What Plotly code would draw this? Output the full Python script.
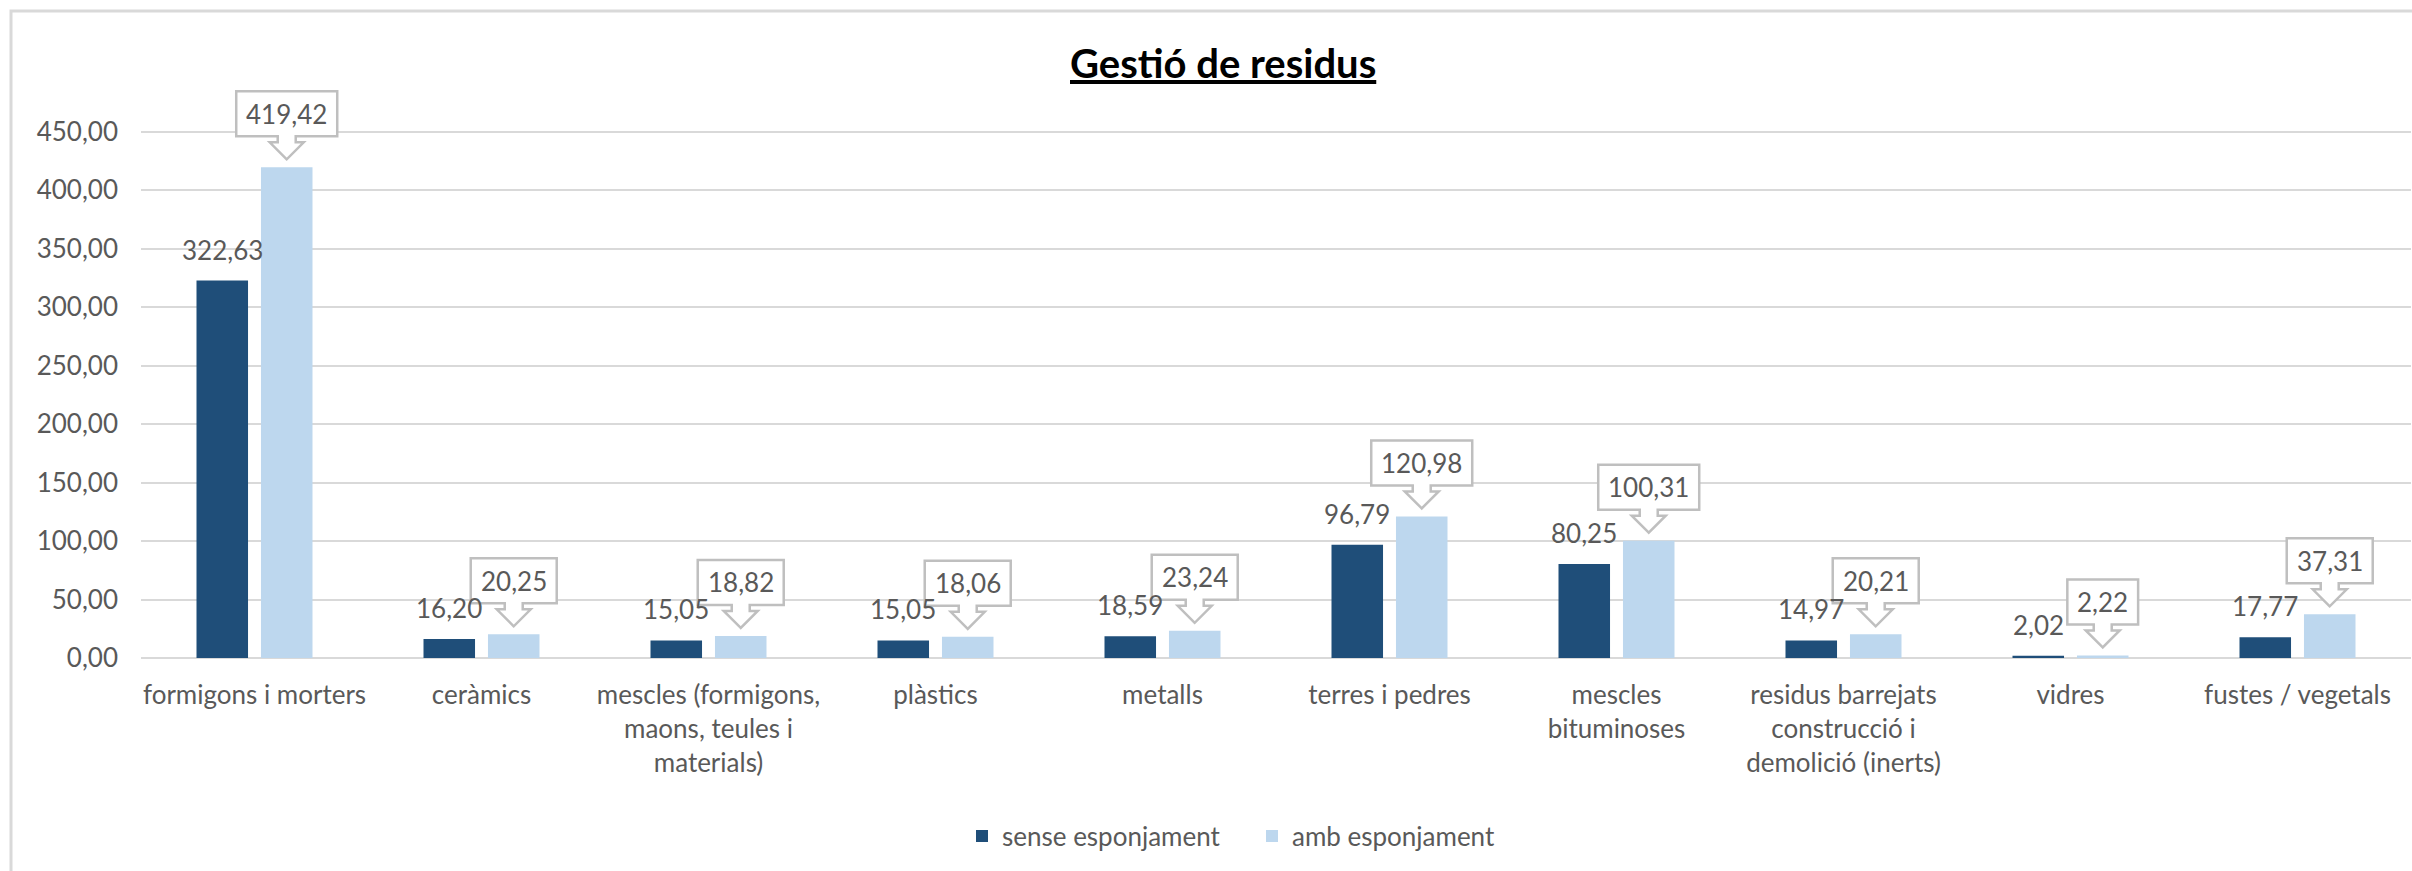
import plotly.graph_objects as go

# Waste categories (x axis) and tonnage per series
categories = [
    "formigons i morters",
    "ceràmics",
    "mescles (formigons,<br>maons, teules i<br>materials)",
    "plàstics",
    "metalls",
    "terres i pedres",
    "mescles<br>bituminoses",
    "residus barrejats<br>construcció i<br>demolició (inerts)",
    "vidres",
    "fustes / vegetals",
]
sense_esponjament = [322.63, 16.20, 15.05, 15.05, 18.59, 96.79, 80.25, 14.97, 2.02, 17.77]
amb_esponjament = [419.42, 20.25, 18.82, 18.06, 23.24, 120.98, 100.31, 20.21, 2.22, 37.31]
y_ticks = [0, 50, 100, 150, 200, 250, 300, 350, 400, 450]

DARK = "#1F4E79"
LIGHT = "#BDD7EE"
TEXT = "#595959"
GRID = "#D9D9D9"
CALLOUT = "#BFBFBF"
FONT = "Lato"
LABEL_SIZE = 26

W, H = 2412, 871
M_L, M_R, M_T, M_B = 141, 1, 73, 213
PLOT_W = W - M_L - M_R
PLOT_H = H - M_T - M_B

BAR_W = 0.227
DARK_OFF = -0.2555
LIGHT_OFF = 0.0285
dark_c = DARK_OFF + BAR_W / 2
light_c = LIGHT_OFF + BAR_W / 2


def fmt(v):
    return f"{v:.2f}".replace(".", ",")


def px_x(px):
    return (px - M_L) / PLOT_W


def px_y(py):
    return (H - M_B - py) / PLOT_H


xs = list(range(len(categories)))

fig = go.Figure()
fig.add_bar(
    x=xs, y=sense_esponjament, width=BAR_W, offset=DARK_OFF,
    marker=dict(color=DARK, line=dict(width=0)), name="sense esponjament",
    hoverinfo="skip",
)
fig.add_bar(
    x=xs, y=amb_esponjament, width=BAR_W, offset=LIGHT_OFF,
    marker=dict(color=LIGHT, line=dict(width=0)), name="amb esponjament",
    hoverinfo="skip",
)

annotations = []
shapes = []

# plain value labels above the dark bars
for i, v in enumerate(sense_esponjament):
    annotations.append(dict(
        x=i + dark_c, y=v, xref="x", yref="y", text=fmt(v), showarrow=False,
        yanchor="bottom", xanchor="center", yshift=13,
        font=dict(family=FONT, size=LABEL_SIZE, color=TEXT),
    ))

# callout boxes with a down-pointing arrow above the light bars
TIP, HEAD, SHAFT_TOP, BOX_TOP = 8, 25, 31, 76
HEAD_HW, SHAFT_HW = 17, 9
for i, v in enumerate(amb_esponjament):
    label = fmt(v)
    n_dig = sum(ch.isdigit() for ch in label)
    hw = (n_dig * 15.1 + 7.5 + 18) / 2
    pts = [
        (0, TIP), (-HEAD_HW, HEAD), (-SHAFT_HW, HEAD), (-SHAFT_HW, SHAFT_TOP),
        (-hw, SHAFT_TOP), (-hw, BOX_TOP), (hw, BOX_TOP), (hw, SHAFT_TOP),
        (SHAFT_HW, SHAFT_TOP), (SHAFT_HW, HEAD), (HEAD_HW, HEAD),
    ]
    path = "M " + " L ".join(f"{a:.1f},{b:.1f}" for a, b in pts) + " Z"
    shapes.append(dict(
        type="path", path=path, xref="x", yref="y",
        xsizemode="pixel", ysizemode="pixel",
        xanchor=i + light_c, yanchor=v,
        fillcolor="white", line=dict(color=CALLOUT, width=2.5), layer="above",
    ))
    annotations.append(dict(
        x=i + light_c, y=v, xref="x", yref="y", text=label, showarrow=False,
        yanchor="middle", xanchor="center", yshift=(SHAFT_TOP + BOX_TOP) / 2,
        font=dict(family=FONT, size=LABEL_SIZE, color=TEXT),
    ))

# title
annotations.append(dict(
    x=px_x(1223), y=px_y(63), xref="paper", yref="paper",
    text="<b>Gestió de residus</b>", showarrow=False,
    xanchor="center", yanchor="middle",
    font=dict(family=FONT, size=40, color="#000000", lineposition="under"),
))

# chart frame
shapes.append(dict(
    type="rect", xref="paper", yref="paper",
    x0=px_x(11), x1=px_x(W + 20), y0=px_y(H + 20), y1=px_y(11),
    line=dict(color=GRID, width=3), fillcolor="rgba(0,0,0,0)", layer="below",
))

fig.update_layout(
    width=W, height=H, autosize=False,
    margin=dict(l=M_L, r=M_R, t=M_T, b=M_B, pad=0),
    paper_bgcolor="white", plot_bgcolor="white",
    barmode="overlay", separators=", ",
    showlegend=True,
    legend=dict(
        orientation="h", x=px_x(1252), xanchor="center", y=px_y(836), yanchor="middle",
        font=dict(family=FONT, size=LABEL_SIZE, color=TEXT),
        bgcolor="rgba(0,0,0,0)", itemclick=False, itemdoubleclick=False,
        entrywidthmode="pixels", entrywidth=245,
    ),
    annotations=annotations, shapes=shapes,
    font=dict(family=FONT, color=TEXT),
)
fig.update_xaxes(
    range=[-0.5, len(categories) - 0.5],
    tickmode="array", tickvals=xs, ticktext=categories,
    tickfont=dict(family=FONT, size=LABEL_SIZE, color=TEXT),
    showgrid=False, zeroline=False, showline=False, ticks="",
    ticklabelstandoff=19, fixedrange=True,
)
fig.update_yaxes(
    range=[0, 500], tickmode="array", tickvals=y_ticks, tickformat=".2f",
    tickfont=dict(family=FONT, size=LABEL_SIZE, color=TEXT),
    showgrid=True, gridcolor=GRID, gridwidth=1.5,
    zeroline=True, zerolinecolor=GRID, zerolinewidth=2,
    showline=False, ticks="", ticklabelstandoff=22, fixedrange=True,
)

fig.write_html("out.html", config={"displayModeBar": False})
